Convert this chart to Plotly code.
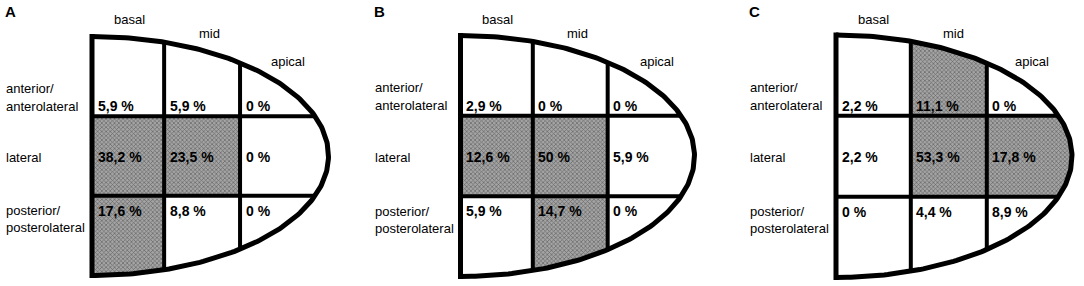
import numpy as np
import plotly.graph_objects as go

# ---------------- data ----------------
panel_letters = ["A", "B", "C"]
levels = ["basal", "mid", "apical"]
regions = [["anterior/", "anterolateral"], ["lateral"], ["posterior/", "posterolateral"]]

# rows: anterior, lateral, posterior ; columns: basal, mid, apical  (percent)
values_A = [[5.9, 5.9, 0], [38.2, 23.5, 0], [17.6, 8.8, 0]]
values_B = [[2.9, 0, 0], [12.6, 50, 5.9], [5.9, 14.7, 0]]
values_C = [[2.2, 11.1, 0], [2.2, 53.3, 17.8], [0, 4.4, 8.9]]
shade_threshold = 10  # cells above this percentage are shaded

panel_values = [values_A, values_B, values_C]

# ---------------- geometry (layout only) ----------------
W, H = 1084, 286
panel_left = [92, 460.5, 836]
panel_top = [36.5, 35.5, 35]
panel_bottom = [275.5, 276.5, 277.5]
panel_width = [236.5, 234, 236]
col_frac = [[0.305, 0.626], [0.309, 0.629], [0.317, 0.639]]

LINE = "black"
FONT = "Liberation Sans, Arial, sans-serif"


def fmt(v):
    if float(v).is_integer():
        return f"{int(v)} %"
    return f"{v:.1f}".replace(".", ",") + " %"


fig = go.Figure()
ann = []

for p, letter in enumerate(panel_letters):
    x0 = panel_left[p]
    a = panel_width[p]
    cy = (panel_top[p] + panel_bottom[p]) / 2
    b = (panel_bottom[p] - panel_top[p]) / 2
    cols = [x0, x0 + col_frac[p][0] * a, x0 + col_frac[p][1] * a, x0 + a]
    rows = [cy - b, cy - b / 3, cy + b / 3, cy + b]

    def half(x):
        return b * np.sqrt(np.clip(1 - ((x - x0) / a) ** 2, 0, 1))

    vals = panel_values[p]
    # shaded cells
    for i in range(3):
        for j in range(3):
            if vals[i][j] <= shade_threshold:
                continue
            xs = np.linspace(cols[j], cols[j + 1], 120)
            top = np.maximum(rows[i], cy - half(xs))
            bot = np.minimum(rows[i + 1], cy + half(xs))
            keep = top < bot
            xs, top, bot = xs[keep], top[keep], bot[keep]
            px = np.concatenate([xs, xs[::-1]])
            py = np.concatenate([top, bot[::-1]])
            fig.add_trace(go.Scatter(
                x=px, y=py, mode="lines", fill="toself",
                fillcolor="#989898",
                fillpattern=dict(shape="x", size=3, solidity=0.4,
                                 fgcolor="#666666", bgcolor="#a4a4a4",
                                 fillmode="replace"),
                line=dict(width=0), hoverinfo="skip", showlegend=False))

    # inner dividers
    for c in cols[1:3]:
        h = half(c)
        fig.add_trace(go.Scatter(x=[c, c], y=[cy - h, cy + h], mode="lines",
                                 line=dict(color=LINE, width=4), hoverinfo="skip",
                                 showlegend=False))
    for r in rows[1:3]:
        xe = x0 + a * np.sqrt(1 - ((r - cy) / b) ** 2)
        fig.add_trace(go.Scatter(x=[x0, xe], y=[r, r], mode="lines",
                                 line=dict(color=LINE, width=4), hoverinfo="skip",
                                 showlegend=False))
    # outline
    t = np.linspace(-np.pi / 2, np.pi / 2, 200)
    fig.add_trace(go.Scatter(x=x0 + a * np.cos(t), y=cy + b * np.sin(t), mode="lines",
                             line=dict(color=LINE, width=5), hoverinfo="skip",
                             showlegend=False))
    fig.add_trace(go.Scatter(x=[x0, x0], y=[cy - b - 2.4, cy + b + 2.4], mode="lines",
                             line=dict(color=LINE, width=5), hoverinfo="skip",
                             showlegend=False))

    # panel letter
    ann.append(dict(x=x0 - 89, y=11, text=f"<b>{letter}</b>", xanchor="left",
                    yanchor="middle", font=dict(size=15, family=FONT, color="black")))
    # column labels
    lab_dx = [37, 117, 196]
    lab_y = [19, 33, 61]
    for j, lv in enumerate(levels):
        ann.append(dict(x=x0 + lab_dx[j], y=lab_y[j], text=lv, xanchor="center",
                        yanchor="middle", font=dict(size=13, family=FONT, color="black")))
    # value positions per row
    val_y = [rows[1] - 10, cy + 1, rows[2] + 15]
    for i in range(3):
        for j in range(3):
            ann.append(dict(x=cols[j] + 3.5, y=val_y[i], text=f"<b>{fmt(vals[i][j])}</b>",
                            xanchor="left", yanchor="middle",
                            font=dict(size=14, family=FONT, color="black")))
    # row labels
    row_line_y = [[val_y[0] - 18, val_y[0]], [val_y[1]], [val_y[2], val_y[2] + 17]]
    for i, lines in enumerate(regions):
        for k, line in enumerate(lines):
            ann.append(dict(x=x0 - 88, y=row_line_y[i][k], text=line, xanchor="left",
                            yanchor="middle",
                            font=dict(size=13, family=FONT, color="black")))

for an in ann:
    an.update(showarrow=False, xref="x", yref="y")

fig.update_layout(
    width=W, height=H, margin=dict(l=0, r=0, t=0, b=0),
    paper_bgcolor="white", plot_bgcolor="white",
    xaxis=dict(range=[0, W], visible=False, fixedrange=True),
    yaxis=dict(range=[H, 0], visible=False, fixedrange=True),
    annotations=ann, showlegend=False,
)
fig.write_html("out.html", config={"displayModeBar": False},
               post_script="document.body.style.margin='0';document.body.style.overflow='hidden';")
